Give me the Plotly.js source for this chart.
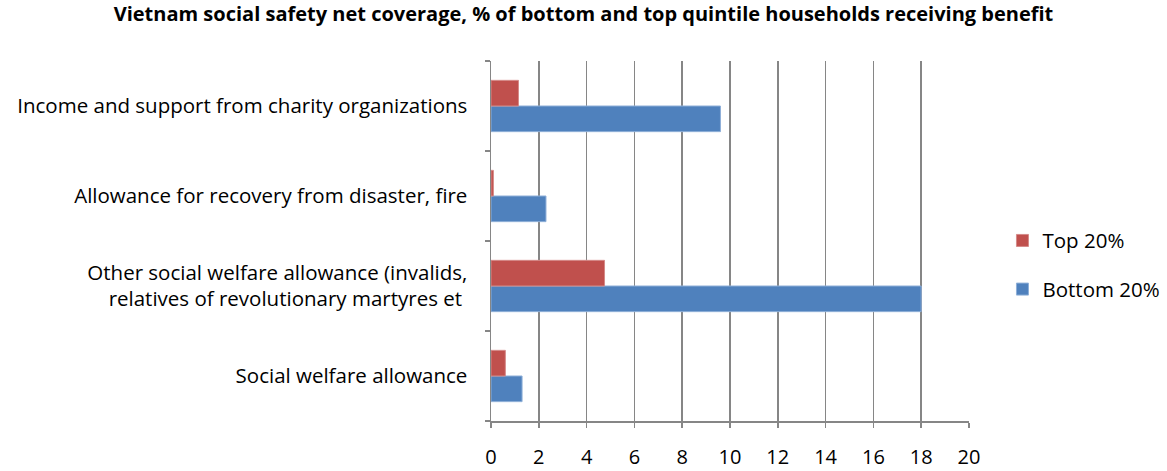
<!DOCTYPE html>
<html>
<head>
<meta charset="utf-8">
<script src="https://cdn.plot.ly/plotly-3.0.1.min.js"></script>
<style>html,body{margin:0;padding:0;background:#fff;}#chart{width:1167px;height:471px;}</style>
</head>
<body>
<div id="chart"></div>
<script>
// Categories listed bottom to top
var categories = [
  "Social welfare allowance",
  "Other social welfare allowance (invalids,<br>relatives of revolutionary martyres et\u00a0",
  "Allowance for recovery from disaster, fire",
  "Income and support from charity organizations"
];
var bottom20 = [1.3, 18.0, 2.3, 9.6];
var top20 = [0.6, 4.75, 0.1, 1.15];
var seriesNames = ["Bottom 20%", "Top 20%"];
var xTicks = [0, 2, 4, 6, 8, 10, 12, 14, 16, 18, 20];
var titleText = "Vietnam social safety net coverage, % of bottom and top quintile households receiving benefit";

var FONT = "'Open Sans', 'Liberation Sans', sans-serif";

var traces = [
  {
    type: "bar", orientation: "h", name: seriesNames[0],
    y: categories, x: bottom20, legendgroup: "b", legendrank: 2,
    marker: {color: "#4F81BD", line: {color: "#8EAFD8", width: 1}},
    hoverinfo: "x"
  },
  {
    type: "bar", orientation: "h", name: seriesNames[1],
    y: categories, x: top20, legendgroup: "t", legendrank: 1,
    marker: {color: "#C0504D", line: {color: "#D58A88", width: 1}},
    hoverinfo: "x"
  }
];

var layout = {
  width: 1167, height: 471,
  paper_bgcolor: "#fff", plot_bgcolor: "#fff",
  margin: {l: 491, r: 198, t: 61, b: 50, pad: 0, autoexpand: false},
  font: {family: FONT, size: 20, color: "#000"},
  title: {
    text: "<b>" + titleText + "</b>",
    font: {family: FONT, size: 20, color: "#000"},
    x: 0.5, xanchor: "center", y: 0.985, yanchor: "top"
  },
  barmode: "group",
  bargap: 0.43,
  bargroupgap: 0,
  showlegend: true,
  legend: {
    x: 1.07, xanchor: "left", y: 0.433, yanchor: "middle",
    traceorder: "grouped", tracegroupgap: 19,
    font: {family: FONT, size: 20.5, color: "#000"},
    bgcolor: "rgba(0,0,0,0)"
  },
  xaxis: {
    range: [0, 20], tickvals: xTicks, ticktext: xTicks.map(String),
    showgrid: true, gridcolor: "#868686", gridwidth: 1.5,
    zeroline: false,
    showline: true, linecolor: "#868686", linewidth: 1.5,
    ticks: "outside", ticklen: 5, tickcolor: "#868686", tickwidth: 1.5,
    ticklabelstandoff: 12,
    tickfont: {family: FONT, size: 20, color: "#000"},
    fixedrange: true
  },
  yaxis: {
    type: "category", categoryorder: "array", categoryarray: categories,
    showline: true, linecolor: "#868686", linewidth: 1.5,
    ticks: "outside", ticklen: 5, tickcolor: "#868686", tickwidth: 1.5,
    tickson: "boundaries",
    showgrid: false, zeroline: false,
    ticklabelstandoff: 18,
    tickfont: {family: FONT, size: 20.5, color: "#000"},
    fixedrange: true
  }
};

Plotly.newPlot("chart", traces, layout, {displayModeBar: false, staticPlot: true});
</script>
</body>
</html>
